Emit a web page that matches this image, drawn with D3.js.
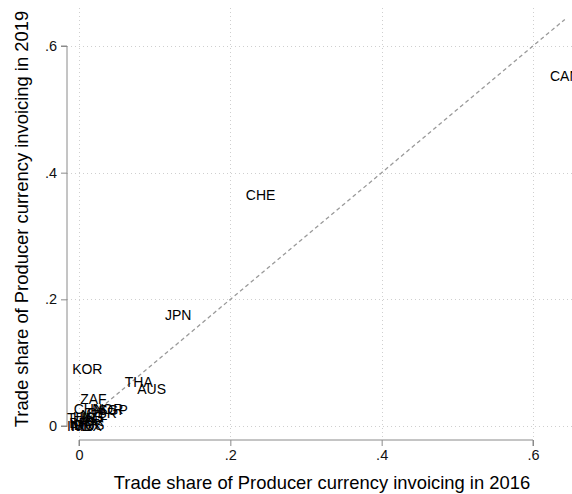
<!DOCTYPE html>
<html>
<head>
<meta charset="utf-8">
<script src="https://cdn.jsdelivr.net/npm/d3@7"></script>
<style>
  html, body { margin: 0; padding: 0; background: #fff; }
  svg { display: block; font-family: "Liberation Sans", Arial, sans-serif; }
</style>
</head>
<body>
<svg id="chart" width="572" height="494"></svg>
<script>
// Country codes and producer-currency invoicing shares
const countries = ["CAN", "CHE", "JPN", "KOR", "THA", "AUS", "ZAF", "CHN", "NOR", "SGP",
                   "GBR", "NZL", "HKG", "TUR", "ISR", "RUS", "BRA", "MEX", "IDN", "IND"];
const share2016 = [0.642, 0.240, 0.131, 0.011, 0.079, 0.096, 0.019, 0.013, 0.038, 0.045,
                   0.030, 0.020, 0.012, 0.003, 0.018, 0.014, 0.006, 0.010, 0.004, 0.000];
const share2019 = [0.553, 0.365, 0.175, 0.090, 0.0695, 0.058, 0.043, 0.027, 0.027, 0.025,
                   0.020, 0.018, 0.014, 0.012, 0.008, 0.002, 0.004, 0.000, 0.001, 0.000];
const xTicks = [0, 0.2, 0.4, 0.6];
const yTicks = [0, 0.2, 0.4, 0.6];
const xTitle = "Trade share of Producer currency invoicing in 2016";
const yTitle = "Trade share of Producer currency invoicing in 2019";

const data = countries.map((c, i) => ({ code: c, x: share2016[i], y: share2019[i] }));

const svg = d3.select("#chart");
const W = 572, H = 494;

// Plot region and scales
const region = { left: 67, right: W, top: 8, bottom: 440 };
const x = d3.scaleLinear().domain([0, 0.6]).range([79, 533]);
const y = d3.scaleLinear().domain([0, 0.6]).range([426, 46]);

const fmt = v => v === 0 ? "0" : d3.format(".1f")(v).replace(/^0/, "");

// Grid lines
const grid = svg.append("g").attr("stroke", "#cfcfcf").attr("stroke-width", 1)
  .attr("stroke-dasharray", "1,3");
grid.selectAll("line.gx").data(xTicks).join("line")
  .attr("x1", d => Math.round(x(d)) + 0.5).attr("x2", d => Math.round(x(d)) + 0.5)
  .attr("y1", region.top).attr("y2", region.bottom);
grid.selectAll("line.gy").data(yTicks).join("line")
  .attr("y1", d => Math.round(y(d)) + 0.5).attr("y2", d => Math.round(y(d)) + 0.5)
  .attr("x1", region.left).attr("x2", region.right);

// 45-degree reference line over the range of the 2016 shares
const xr = d3.extent(share2016);
svg.append("line")
  .attr("x1", x(xr[0])).attr("y1", y(xr[0]))
  .attr("x2", x(xr[1])).attr("y2", y(xr[1]))
  .attr("stroke", "#9a9a9a").attr("stroke-width", 1.3)
  .attr("stroke-dasharray", "4,3");

// Axes
const xAxis = d3.axisBottom(x).tickValues(xTicks).tickFormat(fmt).tickSize(6).tickPadding(4);
const gx = svg.append("g").attr("transform", `translate(0,${region.bottom})`).call(xAxis);
const yAxis = d3.axisLeft(y).tickValues(yTicks).tickFormat(fmt).tickSize(6).tickPadding(4);
const gy = svg.append("g").attr("transform", `translate(${region.left},0)`).call(yAxis);
[gx, gy].forEach(g => {
  g.select(".domain").attr("stroke", "#8a8a8a");
  g.selectAll(".tick line").attr("stroke", "#8a8a8a");
  g.selectAll(".tick text").attr("fill", "#111").style("font-size", "14.5px")
    .style("font-family", "'Liberation Sans', Arial, sans-serif");
});
gx.select(".domain").attr("d", `M${x(0)},6V0H${x(0.6)}V6`);
gy.select(".domain").attr("d", `M-6,${y(0.6)}H0V${y(0)}H-6`);

// Country labels centred on each point
svg.append("g").selectAll("text").data(data).join("text")
  .attr("x", d => x(d.x)).attr("y", d => y(d.y))
  .attr("text-anchor", "middle").attr("dominant-baseline", "central")
  .style("font-size", "14px").attr("fill", "#000")
  .text(d => d.code);

// Axis titles
svg.append("text").attr("x", 322).attr("y", 482)
  .attr("text-anchor", "middle").attr("dominant-baseline", "central")
  .style("font-size", "18.4px").attr("fill", "#000").text(xTitle);
svg.append("text").attr("transform", "translate(21,219) rotate(-90)")
  .attr("text-anchor", "middle").attr("dominant-baseline", "central")
  .style("font-size", "18.4px").attr("fill", "#000").text(yTitle);
</script>
</body>
</html>
